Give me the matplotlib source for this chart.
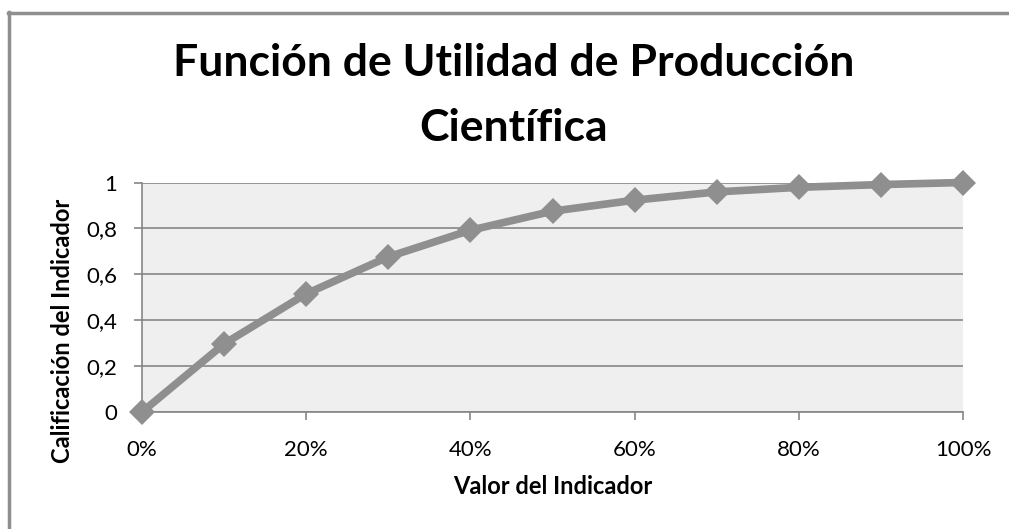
import matplotlib

matplotlib.use("Agg")

import matplotlib.pyplot as plt
from matplotlib.lines import Line2D

# data
valor = [0.0, 0.1, 0.2, 0.3, 0.4, 0.5, 0.6, 0.7, 0.8, 0.9, 1.0]
calificacion = [0.0, 0.297, 0.515, 0.676, 0.792, 0.875, 0.923, 0.959, 0.979, 0.991, 1.0]
x_ticks = [0.0, 0.2, 0.4, 0.6, 0.8, 1.0]
x_labels = ["0%", "20%", "40%", "60%", "80%", "100%"]
y_ticks = [0.0, 0.2, 0.4, 0.6, 0.8, 1.0]
y_labels = ["0", "0,2", "0,4", "0,6", "0,8", "1"]

plt.rcParams["font.family"] = ["Lato", "DejaVu Sans"]

grey = "#8f8f8f"
axis_grey = "#868686"

fig = plt.figure(figsize=(10.09, 5.29), dpi=100)
W, H = 1009, 529

# chart frame (only left and top edges are visible in the reference)
fig.add_artist(Line2D([9 / W, 9 / W], [0, 1 - 12 / H], transform=fig.transFigure,
                      color=grey, linewidth=2.5))
fig.add_artist(Line2D([8 / W, 1], [1 - 13 / H, 1 - 13 / H], transform=fig.transFigure,
                      color=grey, linewidth=2.5))

ax = fig.add_axes([142 / W, 1 - 412 / H, (963 - 142) / W, (412 - 182.5) / H])
ax.set_facecolor("#efefef")

ax.plot(valor, calificacion, color=grey, linewidth=5.5, marker="D",
        markersize=13.5, markeredgewidth=0, clip_on=False, zorder=5)

ax.set_xlim(0, 1)
ax.set_ylim(0, 1)
ax.set_xticks(x_ticks, x_labels, fontsize=16)
ax.set_yticks(y_ticks, y_labels, fontsize=16)
ax.grid(axis="y", color=axis_grey, linewidth=1.2)
ax.set_axisbelow(True)

for side in ("top", "right"):
    ax.spines[side].set_visible(False)
for side in ("left", "bottom"):
    ax.spines[side].set_color(axis_grey)
    ax.spines[side].set_linewidth(1.2)
ax.tick_params(axis="both", colors=axis_grey, labelcolor="black",
               length=6, width=1.2, direction="out")
ax.tick_params(axis="x", pad=14)
ax.tick_params(axis="y", pad=12)

ax.set_xlabel("Valor del Indicador", fontsize=17, fontweight="bold", va="center")
ax.xaxis.set_label_coords(0.5, (412 - 487) / 229.5)
ax.set_ylabel("Calificación del Indicador", fontsize=17, fontweight="bold", va="center")
ax.yaxis.set_label_coords((62 - 142) / 821, (412 - 331) / 229.5)

fig.text(514 / W, 1 - 63 / H, "Función de Utilidad de Producción", ha="center",
         va="center", fontsize=32, fontweight="bold")
fig.text(514 / W, 1 - 128 / H, "Científica", ha="center", va="center",
         fontsize=32, fontweight="bold")

fig.savefig("out.png", dpi=100)
